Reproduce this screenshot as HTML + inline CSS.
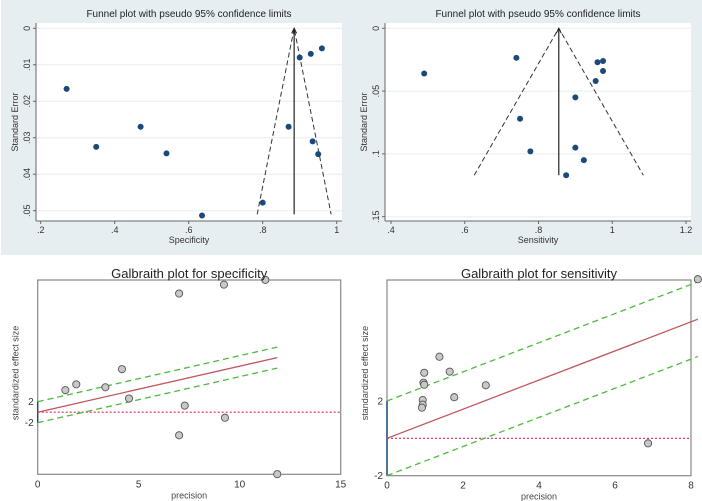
<!DOCTYPE html>
<html><head><meta charset="utf-8"><style>
html,body{margin:0;padding:0;background:#fff;}
svg{display:block;font-family:"Liberation Sans",sans-serif;}
</style></head><body>
<svg id="c" width="702" height="501" viewBox="0 0 702 501">
<rect x="1" y="0" width="701" height="255" fill="#e7eef2"/>
<g id="g"></g>
</svg>
<script>
// Funnel plot specificity
const specX=[0.27,0.35,0.47,0.54,0.636,0.80,0.87,0.90,0.93,0.96,0.935,0.95];
const specSE=[0.0166,0.0325,0.027,0.0343,0.0513,0.0478,0.027,0.008,0.007,0.0055,0.031,0.0345];
const specPooled=0.885, specFunnelSE=0.051;
const specXTicks=[0.2,0.4,0.6,0.8,1], specXLabels=[".2",".4",".6",".8","1"];
const specYTicks=[0,0.01,0.02,0.03,0.04,0.05], specYLabels=["0",".01",".02",".03",".04",".05"];
// Funnel plot sensitivity
const sensX=[0.49,0.74,0.75,0.778,0.875,0.90,0.90,0.923,0.955,0.96,0.975,0.975];
const sensSE=[0.036,0.0235,0.072,0.098,0.117,0.055,0.095,0.105,0.042,0.027,0.026,0.034];
const sensPooled=0.855, sensFunnelSE=0.117;
const sensXTicks=[0.4,0.6,0.8,1,1.2], sensXLabels=[".4",".6",".8","1","1.2"];
const sensYTicks=[0,0.05,0.1,0.15], sensYLabels=["0",".05",".1",".15"];
// Galbraith specificity
const gsPrec=[1.37,1.91,3.35,4.17,4.52,7.0,9.22,11.27,7.28,9.27,7.0,11.86];
const gsZ=[4.2,5.3,4.74,8.2,2.6,22.6,24.3,25.2,1.25,-1.05,-4.4,-11.8];
const gsSlope=0.877;
const gsXTicks=[0,5,10,15], gsYTicks=[2,-2];
// Galbraith sensitivity
const gnPrec=[8.18,1.38,1.65,0.98,0.96,0.98,2.6,1.77,0.94,0.94,0.92,6.87];
const gnZ=[8.52,4.37,3.57,3.51,2.98,2.87,2.84,2.2,2.05,1.8,1.64,-0.27];
const gnSlope=0.78;
const gnXTicks=[0,2,4,6,8], gnYTicks=[2,-2];

const NS="http://www.w3.org/2000/svg", G=document.getElementById('g');
function el(t,a,txt){const e=document.createElementNS(NS,t);for(const k in a)e.setAttribute(k,a[k]);if(txt!==undefined)e.textContent=txt;G.appendChild(e);return e;}
function lin(d0,d1,r0,r1){return v=>r0+(v-d0)/(d1-d0)*(r1-r0);}

function funnel(o){
  const sx=lin(o.xd[0],o.xd[1],o.xr[0],o.xr[1]), sy=lin(o.yd[0],o.yd[1],o.yr[0],o.yr[1]);
  let e=el('rect',{x:o.px,y:23,width:o.pw,height:198,fill:'#fff'});
  
  o.yt.forEach((v,i)=>{
    e=el('line',{x1:o.px,x2:o.px+o.pw,y1:sy(v),y2:sy(v),stroke:'#e8eef2','stroke-width':1});
    
    el('line',{x1:o.px-3,x2:o.px,y1:sy(v),y2:sy(v),stroke:'#666'});
    e=el('text',{x:o.px-6,y:sy(v),'font-size':9,fill:'#333','text-anchor':'middle',transform:`rotate(-90 ${o.px-6} ${sy(v)})`},o.yl[i]);
    
  });
  o.xt.forEach((v,i)=>{
    el('line',{x1:sx(v),x2:sx(v),y1:221,y2:224,stroke:'#666'});
    e=el('text',{x:sx(v),y:233,'font-size':9,fill:'#333','text-anchor':'middle'},o.xl[i]);
    
  });
  el('line',{x1:o.px,x2:o.px,y1:23,y2:221,stroke:'#666'});
  el('line',{x1:o.px,x2:o.px+o.pw,y1:221,y2:221,stroke:'#666'});
  const ap=sx(o.pool), top=sy(0), bot=sy(o.fse), w=1.96*o.fse;
  e=el('path',{d:`M${sx(o.pool-w)},${bot}L${ap},${top}L${sx(o.pool+w)},${bot}`,fill:'none',stroke:'#333','stroke-dasharray':'5,3','stroke-width':1});
  
  e=el('line',{x1:ap,x2:ap,y1:top,y2:bot,stroke:'#222','stroke-width':1.2});
  
  el('path',{d:`M${ap-2.5},${top+5}L${ap},${top}L${ap+2.5},${top+5}`,fill:'none',stroke:'#222'});
  o.x.forEach((v,i)=>{
    e=el('circle',{cx:sx(v),cy:sy(o.y[i]),r:3,fill:'#1a4a7a'});
    
  });
  e=el('text',{x:o.px+o.pw/2,y:17,'font-size':10,fill:'#222','text-anchor':'middle'},'Funnel plot with pseudo 95% confidence limits');
  
  e=el('text',{x:o.px+o.pw/2,y:243,'font-size':9,fill:'#333','text-anchor':'middle'},o.xlab);
  
  e=el('text',{x:o.px-18,y:122,'font-size':9,fill:'#333','text-anchor':'middle',transform:`rotate(-90 ${o.px-18} 122)`},'Standard Error');
  
}
funnel({n:'specificity-funnel',px:36,pw:306,xd:[0.2,1],xr:[40.7,336.7],yd:[0,0.05],yr:[28.3,210.7],
  xt:specXTicks,xl:specXLabels,yt:specYTicks,yl:specYLabels,x:specX,y:specSE,pool:specPooled,fse:specFunnelSE,xlab:'Specificity'});
funnel({n:'sensitivity-funnel',px:385,pw:306,xd:[0.4,1.2],xr:[391,686],yd:[0,0.15],yr:[28.3,216.7],
  xt:sensXTicks,xl:sensXLabels,yt:sensYTicks,yl:sensYLabels,x:sensX,y:sensSE,pool:sensPooled,fse:sensFunnelSE,xlab:'Sensitivity'});

function galb(o){
  const sx=lin(0,o.xmax,o.fx,o.fx2), sy=lin(0,1,o.y0,o.y0-o.ppu);
  let e=el('rect',{x:o.fx,y:o.ft,width:o.fx2-o.fx,height:o.fb-o.ft,fill:'#fff',stroke:'#888','stroke-width':1.2});
  
  e=el('line',{x1:o.fx,x2:o.fx,y1:sy(2),y2:sy(-2),stroke:'#1f4e79','stroke-width':1.5});
  
  e=el('line',{x1:o.fx,x2:o.fx2,y1:sy(0),y2:sy(0),stroke:'#e8245a','stroke-dasharray':'2,2','stroke-width':1.2});
  
  const xe=o.lineEnd;
  [[0,'#c0565e','','regression-line'],[2,'#4cbb3c','6,4','upper-bound'],[-2,'#4cbb3c','6,4','lower-bound']].forEach(a=>{
    e=el('line',{x1:sx(0),y1:sy(a[0]),x2:sx(xe),y2:sy(a[0]+o.slope*xe),stroke:a[1],'stroke-width':1.3,'stroke-dasharray':a[2]});
    
  });
  o.x.forEach((v,i)=>{
    e=el('circle',{cx:sx(v),cy:sy(o.y[i]),r:3.6,fill:'#c8c8c8',stroke:'#555','stroke-width':0.9});
    
  });
  o.xt.forEach(v=>{
    e=el('text',{x:sx(v),y:o.fb+13,'font-size':10,fill:'#333','text-anchor':'middle'},String(v));
    
  });
  o.yt.forEach(v=>{
    e=el('text',{x:o.fx-4,y:sy(v)+3.5,'font-size':10,fill:'#333','text-anchor':'end'},String(v));
    
  });
  e=el('text',{x:(o.fx+o.fx2)/2,y:o.fb+24,'font-size':9,fill:'#444','text-anchor':'middle'},'precision');
  
  e=el('text',{x:o.fx-19,y:373,'font-size':9,fill:'#444','text-anchor':'middle',transform:`rotate(-90 ${o.fx-19} 373)`},'standardized effect size');
  
  e=el('text',{x:(o.fx+o.fx2)/2,y:278,'font-size':13,fill:'#222','text-anchor':'middle'},o.title);
  
}
galb({n:'specificity-galbraith',fx:37.7,fx2:340.7,ft:280,fb:474.3,xmax:15,y0:412.2,ppu:5.25,
  xt:gsXTicks,yt:gsYTicks,x:gsPrec,y:gsZ,slope:gsSlope,lineEnd:11.86,title:'Galbraith plot for specificity'});
galb({n:'sensitivity-galbraith',fx:387,fx2:691,ft:280,fb:475.7,xmax:8,y0:438.3,ppu:18.67,
  xt:gnXTicks,yt:gnYTicks,x:gnPrec,y:gnZ,slope:gnSlope,lineEnd:8.18,title:'Galbraith plot for sensitivity'});
</script>
</body></html>
